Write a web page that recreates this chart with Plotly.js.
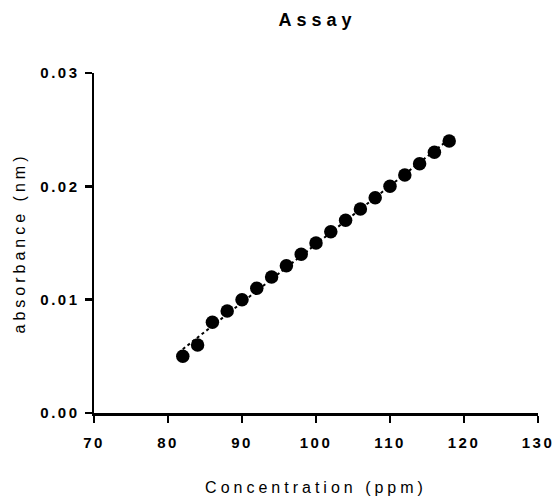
<!DOCTYPE html>
<html>
<head>
<meta charset="utf-8">
<script src="https://cdn.plot.ly/plotly-3.0.1.min.js"></script>
<style>
  html, body { margin: 0; padding: 0; background: #fff; }
  #chart { width: 555px; height: 504px; }
  .xtick text, .ytick text { letter-spacing: 2.5px; }
  .gtitle { letter-spacing: 5px; }
  .xtitle, .ytitle { letter-spacing: 4px; }
</style>
</head>
<body>
<div id="chart"></div>
<script>
// Data
const concentration = [82, 84, 86, 88, 90, 92, 94, 96, 98, 100, 102, 104, 106, 108, 110, 112, 114, 116, 118];
const absorbance = [0.005, 0.006, 0.008, 0.009, 0.010, 0.011, 0.012, 0.013, 0.014, 0.015, 0.016, 0.017, 0.018, 0.019, 0.020, 0.021, 0.022, 0.023, 0.024];
// Fitted line end points (linear regression of the points above)
const fitX = [82, 118];
const fitY = [0.00563, 0.02416];
const xTicks = [70, 80, 90, 100, 110, 120, 130];
const yTicks = [0.00, 0.01, 0.02, 0.03];
const yTickLabels = ['0.00', '0.01', '0.02', '0.03'];

const fontFam = 'Liberation Sans, Arial, Helvetica, sans-serif';

const traces = [
  {
    x: fitX, y: fitY, type: 'scatter', mode: 'lines',
    line: { color: '#000', width: 2, dash: 'dot' },
    hoverinfo: 'skip', showlegend: false
  },
  {
    x: concentration, y: absorbance, type: 'scatter', mode: 'markers',
    marker: { color: '#000', size: 13.5, symbol: 'circle' },
    showlegend: false
  }
];

const layout = {
  width: 555, height: 504,
  margin: { l: 94, r: 17, t: 73, b: 91 },
  paper_bgcolor: '#fff', plot_bgcolor: '#fff',
  showlegend: false,
  title: {
    text: 'Assay',
    font: { family: fontFam, size: 18, color: '#000', weight: 'bold' },
    x: 0.572, xanchor: 'center', y: 0.96, yanchor: 'middle'
  },
  xaxis: {
    range: [70, 130],
    tickvals: xTicks, ticktext: xTicks.map(String),
    ticks: 'outside', ticklen: 7, tickwidth: 2.5, tickcolor: '#000',
    showline: true, linecolor: '#000', linewidth: 2.5,
    showgrid: false, zeroline: false,
    ticklabelstandoff: 7,
    tickfont: { family: fontFam, size: 15, color: '#000', weight: 'bold' },
    title: { text: 'Concentration (ppm)', font: { family: fontFam, size: 16, color: '#000' }, standoff: 33 },
    fixedrange: true
  },
  yaxis: {
    range: [0, 0.03],
    tickvals: yTicks, ticktext: yTickLabels,
    ticks: 'outside', ticklen: 7, tickwidth: 2.5, tickcolor: '#000',
    showline: true, linecolor: '#000', linewidth: 2.5,
    showgrid: false, zeroline: false,
    ticklabelstandoff: 2,
    tickfont: { family: fontFam, size: 15, color: '#000', weight: 'bold' },
    title: { text: 'absorbance (nm)', font: { family: fontFam, size: 16, color: '#000' }, standoff: 11 },
    fixedrange: true
  }
};

Plotly.newPlot('chart', traces, layout, { displayModeBar: false, staticPlot: true });
</script>
</body>
</html>
